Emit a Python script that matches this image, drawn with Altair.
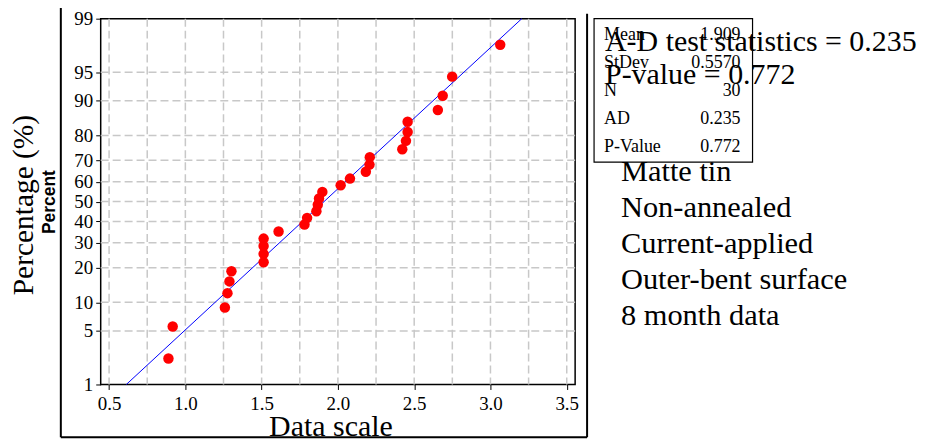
import altair as alt
import pandas as pd
from statistics import NormalDist

# ---- data ----
data_values = [0.889, 0.917, 1.259, 1.276, 1.289, 1.302, 1.513, 1.513, 1.513, 1.513,
               1.611, 1.781, 1.798, 1.859, 1.868, 1.876, 1.898, 2.018, 2.079, 2.183,
               2.207, 2.209, 2.422, 2.446, 2.457, 2.457, 2.655, 2.687, 2.749, 3.064]
percents = [2.3, 5.6, 8.9, 12.2, 15.5, 18.8, 22.0, 25.3, 28.6, 31.9,
            35.2, 38.5, 41.8, 45.1, 48.4, 51.6, 54.9, 58.2, 61.5, 64.8,
            68.1, 71.4, 74.7, 78.0, 81.2, 84.5, 87.8, 91.1, 94.4, 97.7]
fit_values = [0.613, 3.205]
fit_percents = [1, 99]
y_tick_percents = [1, 5, 10, 20, 30, 40, 50, 60, 70, 80, 90, 95, 99]
x_tick_values = [0.5, 1.0, 1.5, 2.0, 2.5, 3.0, 3.5]
x_grid_values = [0.5, 0.75, 1.0, 1.25, 1.5, 1.75, 2.0, 2.25, 2.5, 2.75, 3.0, 3.25, 3.5]
stat_labels = ["Mean", "StDev", "N", "AD", "P-Value"]
stat_values = ["1.909", "0.5570", "30", "0.235", "0.772"]
test_lines = ["A-D test statistics = 0.235", "P-value = 0.772"]
note_lines = ["Matte tin", "Non-annealed", "Current-applied", "Outer-bent surface", "8 month data"]

nd = NormalDist()
def z(p):
    return nd.inv_cdf(p / 100.0)

pts = pd.DataFrame({"x": data_values, "z": [z(p) for p in percents]})
fit = pd.DataFrame({"x": fit_values, "z": [z(p) for p in fit_percents]})
ygrid = pd.DataFrame({"z": [z(p) for p in y_tick_percents[1:-1]]})
xgrid = pd.DataFrame({"x": x_grid_values})
one = pd.DataFrame({"a": [0]})

zt = [z(p) for p in y_tick_percents]
# label expression mapping z back to percent labels
expr = "'%d'" % y_tick_percents[-1]
for i in range(len(zt) - 2, -1, -1):
    mid = (zt[i] + zt[i + 1]) / 2
    expr = "datum.value < %f ? '%d' : (%s)" % (mid, y_tick_percents[i], expr)

SERIF = "Liberation Serif"
W, H = 476, 367

xscale = alt.Scale(domain=[0.445, 3.555], nice=False, zero=False)
yscale = alt.Scale(domain=[z(1), z(99)], nice=False, zero=False)
xaxis = alt.Axis(values=x_tick_values, format=".1f", title=None, grid=False, domain=False,
                 tickColor="black", tickSize=5, tickWidth=1, labelFont=SERIF,
                 labelFontSize=19, labelColor="black", labelPadding=5)
yaxis = alt.Axis(values=zt, labelExpr=expr, title=None, grid=False, domain=False,
                 tickColor="black", tickSize=5, tickWidth=1, labelFont=SERIF,
                 labelFontSize=19, labelColor="black", labelPadding=3)

X = lambda: alt.X("x:Q", scale=xscale, axis=xaxis)
Y = lambda: alt.Y("z:Q", scale=yscale, axis=yaxis)

grid_style = dict(color="#c8c8c8", strokeDash=[8, 4], strokeWidth=1.5)
xg = alt.Chart(xgrid).mark_rule(**grid_style).encode(x=X())
yg = alt.Chart(ygrid).mark_rule(**grid_style).encode(y=Y())
line = alt.Chart(fit).mark_line(color="#0000ff", strokeWidth=1).encode(x=X(), y=Y())
dots = alt.Chart(pts).mark_circle(color="#ff0000", size=110, opacity=1).encode(x=X(), y=Y())

# outer figure frame
frame_l = alt.Chart(one).mark_rule(color="black", strokeWidth=2).encode(
    x=alt.value(-40), y=alt.value(-16), y2=alt.value(420))
frame_b = alt.Chart(one).mark_rule(color="black", strokeWidth=2).encode(
    x=alt.value(-40), x2=alt.value(488), y=alt.value(420))
frame_r = alt.Chart(one).mark_rule(color="black", strokeWidth=2).encode(
    x=alt.value(488), y=alt.value(-5), y2=alt.value(420))

# axis titles
ytitle = alt.Chart(one).mark_text(text="Percentage (%)", font=SERIF, fontSize=29.5, angle=270,
                                  align="center", baseline="alphabetic", color="black").encode(
    x=alt.value(-68), y=alt.value(187))
ytitle2 = alt.Chart(one).mark_text(text="Percent", font="Liberation Sans", fontWeight="bold",
                                   fontSize=17.5, angle=270, align="center", baseline="alphabetic",
                                   color="black").encode(x=alt.value(-46), y=alt.value(184))
xtitle = alt.Chart(one).mark_text(text="Data scale", font=SERIF, fontSize=30, align="center",
                                  baseline="alphabetic", color="black").encode(
    x=alt.value(231), y=alt.value(419))

# stats box
box = alt.Chart(one).mark_rect(fill="white", stroke="black", strokeWidth=1.2).encode(
    x=alt.value(495), x2=alt.value(654), y=alt.value(0), y2=alt.value(144))
box_lab = alt.Chart(one).mark_text(text=stat_labels, font=SERIF, fontSize=18, align="left",
                                   baseline="alphabetic", lineHeight=28.3, color="black").encode(
    x=alt.value(505), y=alt.value(21))
box_val = alt.Chart(one).mark_text(text=stat_values, font=SERIF, fontSize=18, align="right",
                                   baseline="alphabetic", lineHeight=28.3, color="black").encode(
    x=alt.value(642), y=alt.value(21))
test_txt = alt.Chart(one).mark_text(text=test_lines, font=SERIF, fontSize=30, align="left",
                                    baseline="alphabetic", lineHeight=34, color="black").encode(
    x=alt.value(506), y=alt.value(32))
note_txt = alt.Chart(one).mark_text(text=note_lines, font=SERIF, fontSize=30.5, align="left",
                                    baseline="alphabetic", lineHeight=36, color="black").encode(
    x=alt.value(522), y=alt.value(163))

chart = alt.layer(
    xg, yg, line, dots, frame_l, frame_b, frame_r, ytitle, ytitle2, xtitle,
    box, box_lab, box_val, test_txt, note_txt
).properties(
    width=W, height=H,
    autosize=alt.AutoSizeParams(type="none"),
    padding={"left": 93, "top": 10, "right": 343, "bottom": 60},
    background="white",
).configure_view(stroke="black", strokeWidth=1.5)

chart.save("out.html", embed_options={"renderer": "svg", "actions": False})
